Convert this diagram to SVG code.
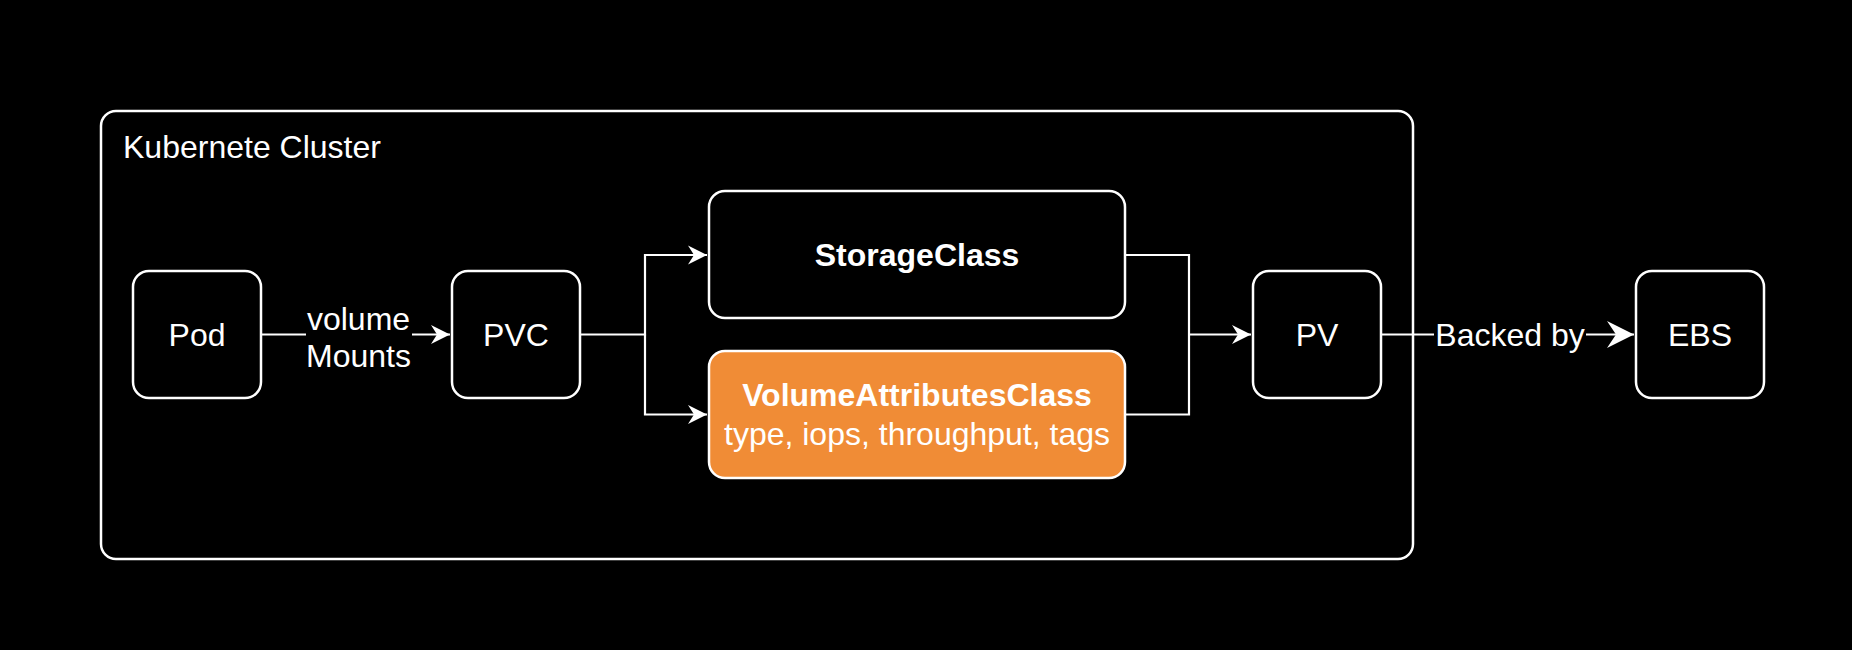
<svg xmlns="http://www.w3.org/2000/svg" width="1852" height="650" viewBox="0 0 1852 650">
  <style>
    .box { fill: #000000; stroke: #ffffff; stroke-width: 2.5; }
    .orange { fill: #F08C36; stroke: #ffffff; stroke-width: 2.5; }
    .edge { fill: none; stroke: #ffffff; stroke-width: 2.2; }
    .t { font-family: "Liberation Sans", Arial, Helvetica, sans-serif; font-size: 32px; fill: #ffffff; }
    .c { text-anchor: middle; }
    .b { font-weight: bold; }
  </style>
  <defs>
    <marker id="arr" markerUnits="userSpaceOnUse" markerWidth="22" markerHeight="22" viewBox="-20 -11 22 22" refX="0" refY="0" orient="auto">
      <path d="M0,0 L-19,-9.5 L-13,0 L-19,9.5 Z" fill="#ffffff"/>
    </marker>
    <marker id="arrBig" markerUnits="userSpaceOnUse" markerWidth="30" markerHeight="30" viewBox="-29 -15 30 30" refX="0" refY="0" orient="auto">
      <path d="M0,0 L-27,-13.5 L-18,0 L-27,13.5 Z" fill="#ffffff"/>
    </marker>
  </defs>
  <rect width="1852" height="650" fill="#000000"/>

  <g id="cluster">
    <rect class="box" x="101" y="111" width="1312" height="448" rx="15" ry="15"/>
    <text class="t" x="123" y="158">Kubernete Cluster</text>
  </g>

  <g id="connectors">
    <path class="edge" d="M261,334.5 H450" marker-end="url(#arr)"/>
    <rect x="306" y="300" width="106" height="75" fill="#000000"/>
    <text class="t c" x="358.5" y="330">volume</text>
    <text class="t c" x="358.5" y="367">Mounts</text>

    <path class="edge" d="M580,334.5 H645 V255 H707" marker-end="url(#arr)"/>
    <path class="edge" d="M645,334.5 V414.5 H707" marker-end="url(#arr)"/>

    <path class="edge" d="M1125,255 H1189 V414.5 H1125"/>
    <path class="edge" d="M1189,334.5 H1251" marker-end="url(#arr)"/>

    <path class="edge" d="M1381,334.5 H1634" marker-end="url(#arrBig)"/>
    <rect x="1434" y="310" width="152" height="45" fill="#000000"/>
    <text class="t c" x="1510" y="346">Backed by</text>
  </g>

  <g id="pod">
    <rect class="box" x="133" y="271" width="128" height="127" rx="16" ry="16"/>
    <text class="t c" x="197" y="346">Pod</text>
  </g>

  <g id="pvc">
    <rect class="box" x="452" y="271" width="128" height="127" rx="16" ry="16"/>
    <text class="t c" x="516" y="346">PVC</text>
  </g>

  <g id="storageclass">
    <rect class="box" x="709" y="191" width="416" height="127" rx="16" ry="16"/>
    <text class="t c b" x="917" y="266">StorageClass</text>
  </g>

  <g id="volumeattributesclass">
    <rect class="orange" x="709" y="351" width="416" height="127" rx="16" ry="16"/>
    <text class="t c b" x="917" y="406">VolumeAttributesClass</text>
    <text class="t c" x="917" y="445">type, iops, throughput, tags</text>
  </g>

  <g id="pv">
    <rect class="box" x="1253" y="271" width="128" height="127" rx="16" ry="16"/>
    <text class="t c" x="1317" y="346">PV</text>
  </g>

  <g id="ebs">
    <rect class="box" x="1636" y="271" width="128" height="127" rx="16" ry="16"/>
    <text class="t c" x="1700" y="346">EBS</text>
  </g>
</svg>
